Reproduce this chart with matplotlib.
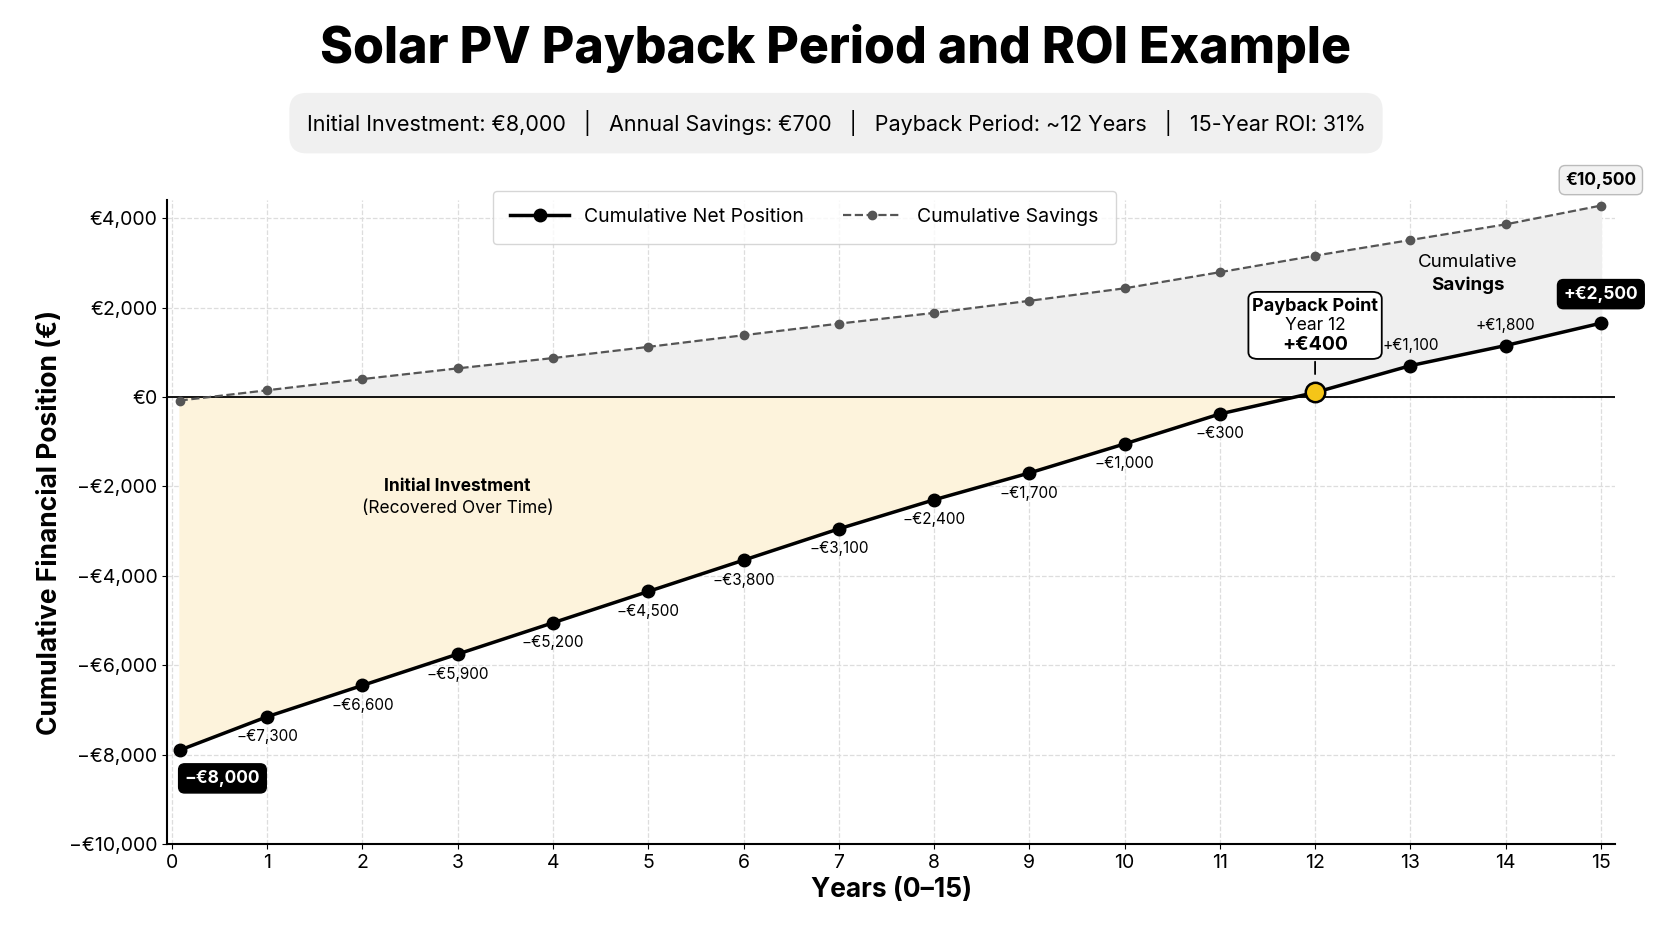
import matplotlib
matplotlib.use("Agg")
import matplotlib.pyplot as plt
import numpy as np
from matplotlib.patches import FancyBboxPatch

years = list(range(16))
net_pos = [-7900, -7150, -6450, -5750, -5050, -4350, -3650, -2950, -2300, -1700, -1050, -380, 100, 700, 1150, 1650]
savings = [-80, 150, 400, 640, 870, 1120, 1380, 1640, 1880, 2150, 2430, 2790, 3160, 3510, 3860, 4280]
net_labels = ["−€8,000", "−€7,300", "−€6,600", "−€5,900", "−€5,200", "−€4,500", "−€3,800", "−€3,100",
              "−€2,400", "−€1,700", "−€1,000", "−€300", "+€400", "+€1,100", "+€1,800", "+€2,500"]
yticks = [-10000, -8000, -6000, -4000, -2000, 0, 2000, 4000]
ytick_labels = ["−€10,000", "−€8,000", "−€6,000", "−€4,000", "−€2,000", "€0", "€2,000", "€4,000"]

plt.rcParams['font.family'] = ['Inter', 'DejaVu Sans']
fig = plt.figure(figsize=(16.72, 9.40), dpi=100)
ax = fig.add_axes([0.100, 0.102, 0.866, 0.685])
x = np.array(years, dtype=float); x[0] = 0.08
n = np.array(net_pos, float); s = np.array(savings, float)

ax.fill_between(x, np.maximum(n, 0), s, color="#efefef", zorder=1)
ax.fill_between(x, n, 0, where=n <= 0, interpolate=True, color="#fdf3dc", zorder=1)
ax.axhline(0, color="black", lw=1.3, zorder=2)
ax.plot(x, s, "--", color="#555", lw=1.6, marker="o", ms=6, zorder=3, label="Cumulative Savings")
ax.plot(x, n, "-", color="black", lw=2.5, marker="o", ms=9, zorder=4, label="Cumulative Net Position")
ax.plot([x[12]], [n[12]], "o", ms=14, mfc="#f5c518", mec="black", mew=1.8, zorder=5)

for i in range(1, 15):
    if i == 12:
        continue
    if i <= 11:
        ax.text(x[i], n[i] - 280, net_labels[i], ha="center", va="top", fontsize=11)
    else:
        ax.text(x[i], n[i] + 280, net_labels[i], ha="center", va="bottom", fontsize=11)
bb = dict(boxstyle="round,pad=0.35", fc="black", ec="black")
ax.text(x[0] + 0.45, n[0] - 630, net_labels[0], ha="center", va="center", color="white", fontsize=12.5, fontweight="bold", bbox=bb)
ax.text(15, 2300, net_labels[15], ha="center", va="center", color="white", fontsize=12.5, fontweight="bold", bbox=bb)
ax.text(15, 4850, "€10,500", ha="center", va="center", fontsize=12.5, fontweight="bold",
        bbox=dict(boxstyle="round,pad=0.35", fc="#f2f2f2", ec="#bbb"))
ax.annotate("", xy=(12, 450), xytext=(12, 850), arrowprops=dict(arrowstyle="-", color="black", lw=1.3))
box = FancyBboxPatch((11.3, 850), 1.4, 1500, boxstyle="round,pad=0,rounding_size=0.1",
                     fc="white", ec="black", lw=1.3, zorder=6, mutation_aspect=1500)
ax.add_patch(box)
ax.text(12, 2030, "Payback Point", ha="center", va="center", fontsize=13, fontweight="bold", zorder=7)
ax.text(12, 1600, "Year 12", ha="center", va="center", fontsize=12.5, zorder=7)
ax.text(12, 1170, "+€400", ha="center", va="center", fontsize=14, fontweight="bold", zorder=7)
ax.text(13.6, 2900, "Cumulative", ha="center", fontsize=13.5)
ax.text(13.6, 2400, "Savings", ha="center", fontsize=13.5, fontweight="bold")
ax.text(3, -2000, "Initial Investment", ha="center", va="center", fontsize=12.5, fontweight="bold")
ax.text(3, -2500, "(Recovered Over Time)", ha="center", va="center", fontsize=12.5)

ax.set_xlim(-0.05, 15.15); ax.set_ylim(-10000, 4400)
ax.set_xticks(years); ax.set_yticks(yticks); ax.set_yticklabels(ytick_labels)
ax.tick_params(labelsize=14)
ax.grid(True, ls="--", color="#ddd", lw=0.9); ax.set_axisbelow(True)
for sp in ["top", "right"]:
    ax.spines[sp].set_visible(False)
ax.spines["left"].set_linewidth(1.5); ax.spines["bottom"].set_linewidth(1.5)
ax.set_xlabel("Years (0–15)", fontsize=19, fontweight="bold")
ax.set_ylabel("Cumulative Financial Position (€)", fontsize=19, fontweight="bold")
h, l = ax.get_legend_handles_labels()
ax.legend(h[::-1], l[::-1], loc="upper center", bbox_to_anchor=(0.44, 1.03), ncol=2, fontsize=14,
          frameon=True, borderpad=0.9, handlelength=3, columnspacing=2)

fig.text(0.5, 0.948, "Solar PV Payback Period and ROI Example", ha="center", va="center", fontsize=36, fontweight="heavy")
fig.text(0.5, 0.869, "Initial Investment: €8,000   |   Annual Savings: €700   |   Payback Period: ~12 Years   |   15-Year ROI: 31%",
         ha="center", va="center", fontsize=15.5,
         bbox=dict(boxstyle="round,pad=0.8", fc="#f0f0f0", ec="none"))
fig.savefig("out.png", dpi=100)
